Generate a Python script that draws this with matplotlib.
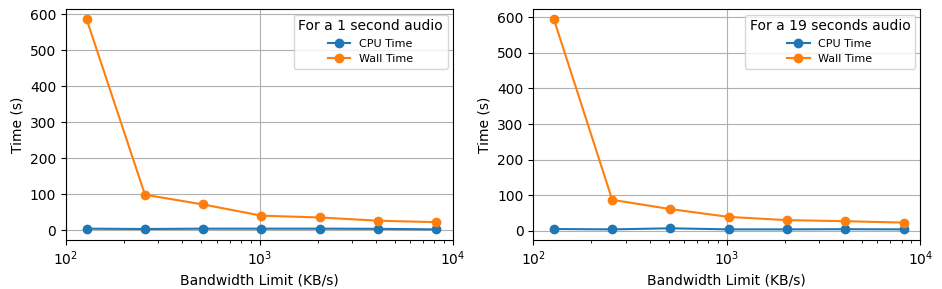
import numpy as np
import matplotlib
matplotlib.use("Agg")
import matplotlib.pyplot as plt

bandwidth = [128, 256, 512, 1024, 2048, 4096, 8192]

cpu_1s = [5, 4, 5, 5, 5, 4.5, 3]
wall_1s = [585, 99, 72, 41, 36, 27, 23]

cpu_19s = [5, 4, 7, 4, 4, 4.5, 4]
wall_19s = [594, 87, 61, 39, 30, 27, 23]

titles = ["For a 1 second audio", "For a 19 seconds audio"]

fig, axes = plt.subplots(1, 2, figsize=(9.42, 2.89), dpi=100)
fig.subplots_adjust(left=0.070, right=0.977, top=0.969, bottom=0.170, wspace=0.207)

for ax, cpu, wall, title in zip(axes, [cpu_1s, cpu_19s], [wall_1s, wall_19s], titles):
    ax.plot(bandwidth, cpu, marker='o', label='CPU Time')
    ax.plot(bandwidth, wall, marker='o', label='Wall Time')
    ax.set_xscale('log')
    ax.set_xlim(1e2, 1e4)
    ax.set_xlabel('Bandwidth Limit (KB/s)')
    ax.set_ylabel('Time (s)')
    ax.grid(True)
    ax.legend(title=title, fontsize=8, loc='upper right')

fig.savefig("out.png", dpi=100)
